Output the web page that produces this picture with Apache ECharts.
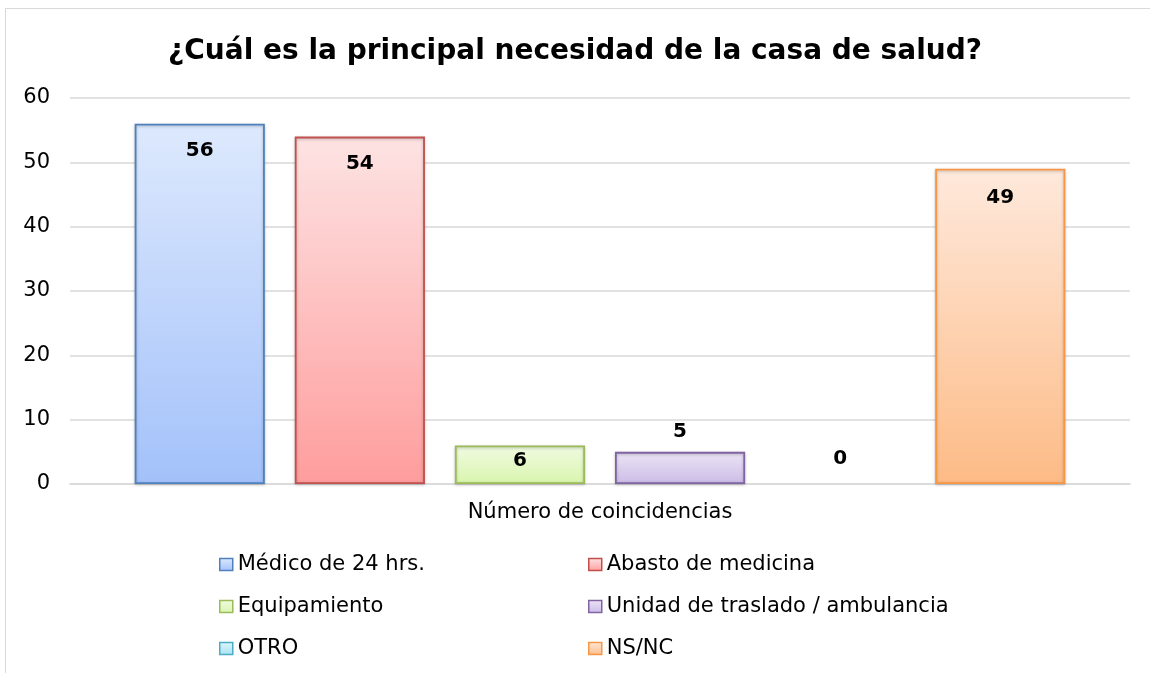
<!DOCTYPE html>
<html>
<head>
<meta charset="utf-8">
<script src="https://cdn.jsdelivr.net/npm/echarts@6/dist/echarts.min.js"></script>
<style>
  html, body { margin: 0; padding: 0; background: #fff; }
  #frame { position: absolute; left: 5px; top: 8px; width: 1160px; height: 680px; border-left: 1px solid #d9d9d9; border-top: 1px solid #d9d9d9; }
  #main { position: absolute; left: 0; top: 0; width: 1150px; height: 673px; }
</style>
</head>
<body>
<div id="frame"></div>
<div id="main"></div>
<script>
// datos del gráfico
var categorias = ['Número de coincidencias'];
var nombres = ['Médico de 24 hrs.', 'Abasto de medicina', 'Equipamiento', 'Unidad de traslado / ambulancia', 'OTRO', 'NS/NC'];
var valores = [56, 54, 6, 5, 0, 49];
var ticksY = [0, 10, 20, 30, 40, 50, 60];

// estilo de cada serie: borde, degradado arriba / abajo
var bordes = ['#4f81bd', '#c0504d', '#9bbb59', '#8064a2', '#4bacc6', '#f79646'];
var arriba = ['#dde9fd', '#fde3e3', '#f1fbe2', '#ece5f6', '#e0f5fb', '#fee9dc'];
var abajo = ['#a3c1fa', '#ff9d9d', '#d8f5ad', '#cbbbe6', '#a8e2f2', '#fdbb86'];
// posición de etiqueta como en Excel
var etiquetas = [
    {position: 'insideTop', distance: 17},
    {position: 'insideTop', distance: 17},
    {position: 'insideTop', distance: 5},
    {position: 'top', distance: 10},
    {position: 'top', distance: 15},
    {position: 'insideTop', distance: 19}
];

var fuente = 'DejaVu Sans, Liberation Sans, Arial';

var chart = echarts.init(document.getElementById('main'));

var series = nombres.map(function (n, i) {
    return {
        name: n,
        type: 'bar',
        data: [valores[i]],
        barGap: '23%',
        barCategoryGap: '12.2%',
        itemStyle: {
            color: new echarts.graphic.LinearGradient(0, 0, 0, 1, [
                {offset: 0, color: arriba[i]},
                {offset: 1, color: abajo[i]}
            ]),
            borderColor: bordes[i],
            borderWidth: valores[i] > 0 ? 1.8 : 0,
            shadowColor: 'rgba(0,0,0,0.25)',
            shadowBlur: 3,
            shadowOffsetY: 1
        },
        label: {
            show: true,
            position: etiquetas[i].position,
            distance: etiquetas[i].distance,
            fontFamily: fuente,
            fontSize: 20,
            fontWeight: 'bold',
            color: '#000'
        }
    };
});

function leyenda(items, left) {
    return {
        data: items.map(function (k) {
            return {name: nombres[k], itemStyle: {borderWidth: 1.5}};
        }),
        orient: 'vertical',
        left: left,
        top: 549,
        itemWidth: 13,
        itemHeight: 12,
        itemGap: 21,
        icon: 'rect',
        textStyle: {fontFamily: fuente, fontSize: 21, lineHeight: 21, color: '#000'}
    };
}

var option = {
    animation: false,
    title: {
        text: '¿Cuál es la principal necesidad de la casa de salud?',
        left: 'center',
        top: 33,
        textStyle: {
            fontFamily: fuente,
            fontSize: 28,
            fontWeight: 'bold',
            color: '#000'
        }
    },
    legend: [leyenda([0, 2, 4], 214), leyenda([1, 3, 5], 583)],
    grid: {left: 70, right: 20, top: 98, bottom: 189},
    xAxis: {
        type: 'category',
        data: categorias,
        axisLine: {lineStyle: {color: '#d9d9d9', width: 1.5}},
        axisTick: {show: false},
        axisLabel: {fontFamily: fuente, fontSize: 21, color: '#000', margin: 18}
    },
    yAxis: {
        type: 'value',
        min: ticksY[0],
        max: ticksY[ticksY.length - 1],
        interval: 10,
        axisLine: {show: false},
        axisTick: {show: false},
        splitLine: {lineStyle: {color: '#d9d9d9', width: 1.5}},
        axisLabel: {fontFamily: fuente, fontSize: 21, color: '#000', margin: 20}
    },
    series: series
};

chart.setOption(option);
</script>
</body>
</html>
